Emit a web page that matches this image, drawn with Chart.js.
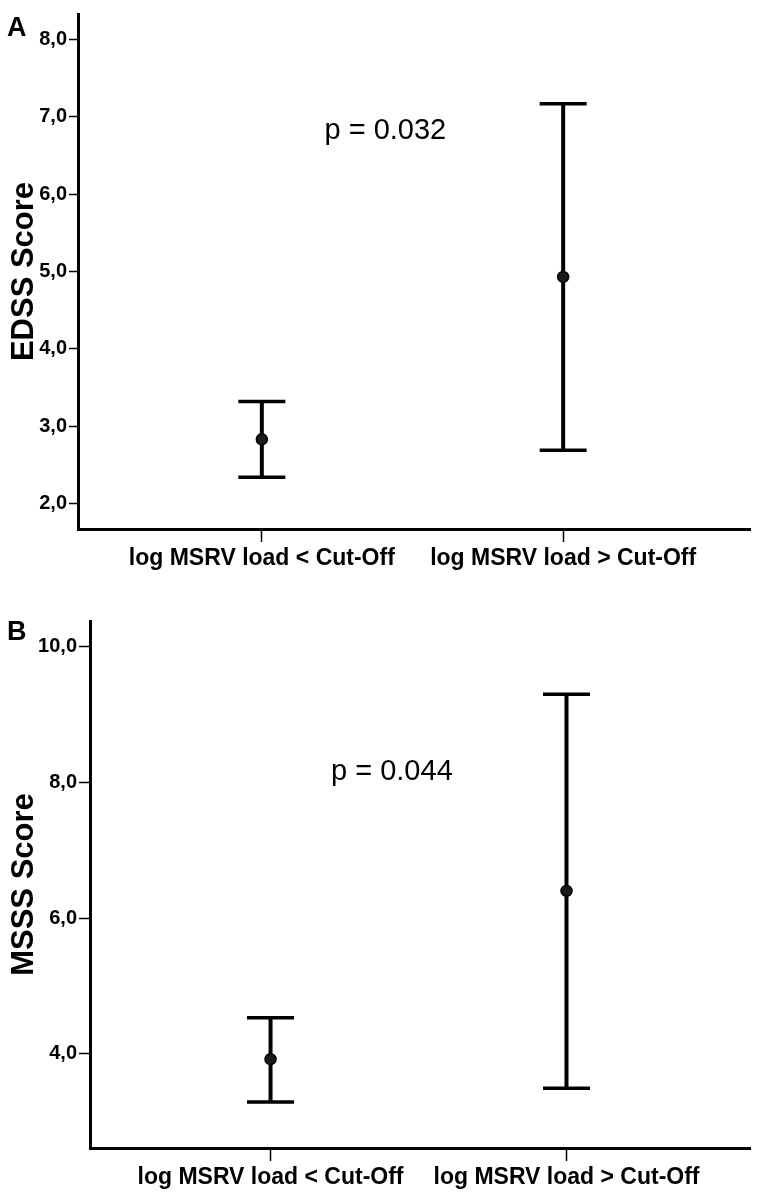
<!DOCTYPE html>
<html>
<head>
<meta charset="utf-8">
<script src="https://cdn.jsdelivr.net/npm/chart.js@4.4.0/dist/chart.umd.min.js"></script>
<style>
html, body { margin: 0; padding: 0; background: #fff; }
#wrap { position: relative; width: 757px; height: 1194px; }
.panel { position: absolute; left: 0; width: 757px; }
</style>
</head>
<body>
<div id="wrap">
  <div class="panel" style="top:0;height:589px"><canvas id="chartA"></canvas></div>
  <div class="panel" style="top:590px;height:604px"><canvas id="chartB"></canvas></div>
</div>
<script>
/* Groups on the x axis */
const groups = ['log MSRV load < Cut-Off', 'log MSRV load > Cut-Off'];
const groupPos = [1, 2];

/* Panel A: EDSS, mean with 95% CI */
const edssMean = [2.83, 4.93];
const edssLow = [2.34, 2.69];
const edssHigh = [3.32, 7.17];
const edssTicks = [2, 3, 4, 5, 6, 7, 8];
const edssP = 'p = 0.032';

/* Panel B: MSSS, mean with 95% CI */
const msssMean = [3.92, 6.40];
const msssLow = [3.29, 3.49];
const msssHigh = [4.53, 9.30];
const msssTicks = [4, 6, 8, 10];
const msssP = 'p = 0.044';

const FONT = '"Liberation Sans", Arial, Helvetica, sans-serif';

/* Whiskers and caps, drawn through the chart scales */
const errorBars = {
    id: 'errorBars',
    beforeDatasetsDraw(chart, args, opts) {
        const { ctx, scales: { x, y } } = chart;
        ctx.save();
        ctx.strokeStyle = '#000';
        ctx.lineCap = 'butt';
        groupPos.forEach(function(g, i) {
            const px = x.getPixelForValue(g);
            const top = y.getPixelForValue(opts.high[i]);
            const bot = y.getPixelForValue(opts.low[i]);
            ctx.lineWidth = 4;
            ctx.beginPath();
            ctx.moveTo(px, top);
            ctx.lineTo(px, bot);
            ctx.stroke();
            ctx.lineWidth = 3.5;
            ctx.beginPath();
            ctx.moveTo(px - opts.cap, top);
            ctx.lineTo(px + opts.cap, top);
            ctx.moveTo(px - opts.cap, bot);
            ctx.lineTo(px + opts.cap, bot);
            ctx.stroke();
        });
        ctx.restore();
    }
};

/* Panel letter and p value */
const panelText = {
    id: 'panelText',
    afterDraw(chart, args, opts) {
        const { ctx, scales: { x, y } } = chart;
        ctx.save();
        ctx.fillStyle = '#000';
        ctx.font = 'bold 27px ' + FONT;
        ctx.textAlign = 'left';
        ctx.textBaseline = 'alphabetic';
        ctx.fillText(opts.letter, 7, opts.letterY);
        ctx.font = '29px ' + FONT;
        ctx.textAlign = 'center';
        ctx.textBaseline = 'middle';
        ctx.fillText(opts.pText, x.getPixelForValue(opts.pAt[0]), y.getPixelForValue(opts.pAt[1]));
        ctx.restore();
    }
};

function createPanel(canvasId, p) {
    const points = groupPos.map(function(g, i) { return { x: g, y: p.mean[i] }; });

    return new Chart(document.getElementById(canvasId), {
        type: 'scatter',
        data: {
            datasets: [{
                data: points,
                pointRadius: 5.5,
                pointBorderWidth: 1.5,
                pointBackgroundColor: '#1a1a1a',
                pointBorderColor: '#000'
            }]
        },
        options: {
            responsive: true,
            maintainAspectRatio: false,
            animation: false,
            layout: { padding: { top: p.padTop, left: 0, right: 5, bottom: 0 } },
            plugins: {
                legend: { display: false },
                tooltip: { enabled: false },
                errorBars: { low: p.low, high: p.high, cap: 23.5 },
                panelText: { letter: p.letter, letterY: p.letterY, pText: p.pText, pAt: p.pAt }
            },
            scales: {
                x: {
                    type: 'linear',
                    min: 0.39,
                    max: 2.62,
                    afterBuildTicks: function(s) { s.ticks = groupPos.map(function(v) { return { value: v }; }); },
                    afterFit: function(s) { s.height = p.xHeight; },
                    border: { color: '#000', width: 3 },
                    grid: { drawOnChartArea: false, tickLength: 13, tickWidth: 1.5, tickColor: '#000' },
                    ticks: {
                        autoSkip: false,
                        maxRotation: 0,
                        padding: 3,
                        color: '#000',
                        font: { family: FONT, size: 23, weight: 'bold' },
                        callback: function(v) { return groups[groupPos.indexOf(v)]; }
                    }
                },
                y: {
                    min: p.yMin,
                    max: p.yMax,
                    afterBuildTicks: function(s) { s.ticks = p.ticks.map(function(v) { return { value: v }; }); },
                    afterFit: function(s) { s.width = p.yWidth; },
                    border: { color: '#000', width: 3 },
                    grid: { drawOnChartArea: false, tickLength: p.tickLen, tickWidth: 1.5, tickColor: '#000' },
                    title: {
                        display: true,
                        text: p.title,
                        color: '#000',
                        padding: { top: 6, bottom: 0 },
                        font: { family: FONT, size: 31, weight: 'bold' }
                    },
                    ticks: {
                        padding: 2,
                        color: '#000',
                        font: { family: FONT, size: 20, weight: 'bold' },
                        callback: function(v) { return v.toFixed(1).replace('.', ','); }
                    }
                }
            }
        },
        plugins: [errorBars, panelText]
    });
}

createPanel('chartA', {
    mean: edssMean, low: edssLow, high: edssHigh, ticks: edssTicks,
    yMin: 1.67, yMax: 8.33, title: 'EDSS Score',
    letter: 'A', letterY: 36, pText: edssP, pAt: [1.41, 6.82],
    padTop: 7, yWidth: 78, xHeight: 60, tickLen: 9
});

createPanel('chartB', {
    mean: msssMean, low: msssLow, high: msssHigh, ticks: msssTicks,
    yMin: 2.61, yMax: 10.38, title: 'MSSS Score',
    letter: 'B', letterY: 50, pText: msssP, pAt: [1.41, 8.15],
    padTop: 31, yWidth: 90, xHeight: 46, tickLen: 11
});
</script>
</body>
</html>
